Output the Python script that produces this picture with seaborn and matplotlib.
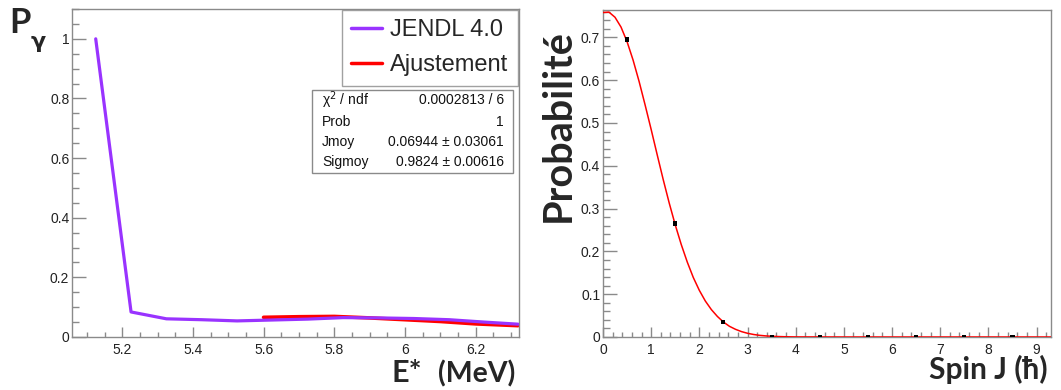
import numpy as np
import pandas as pd
import matplotlib
matplotlib.use("Agg")
import matplotlib.pyplot as plt
from matplotlib.ticker import MultipleLocator, FuncFormatter
from matplotlib.patches import Rectangle
import seaborn as sns

# ---------------- data ----------------
e_jendl = [5.125, 5.225, 5.325, 5.425, 5.525, 5.625, 5.725, 5.825, 5.925, 6.025, 6.125, 6.225, 6.32]
p_jendl = [1.0, 0.084, 0.061, 0.058, 0.054, 0.057, 0.060, 0.065, 0.064, 0.062, 0.058, 0.050, 0.043]

e_fit = [5.6, 5.7, 5.8, 5.9, 6.0, 6.1, 6.2, 6.32]
p_fit = [0.066, 0.068, 0.069, 0.064, 0.058, 0.052, 0.044, 0.038]

spin_pts = [0.5, 1.5, 2.5, 3.5, 4.5, 5.5, 6.5, 7.5, 8.5]
prob_pts = [0.695, 0.265, 0.035, 0.0, 0.0, 0.0, 0.0, 0.0, 0.0]

spin_curve = [0.0, 0.125, 0.25, 0.375, 0.5, 0.625, 0.75, 0.875, 1.0, 1.125, 1.25, 1.375,
              1.5, 1.625, 1.75, 1.875, 2.0, 2.125, 2.25, 2.375, 2.5, 2.625, 2.75, 2.875,
              3.0, 3.125, 3.25, 3.375, 3.5, 3.625, 3.75, 3.875, 4.0, 5.0, 6.0, 7.0, 8.0, 9.3]
prob_curve = [0.758, 0.759, 0.747, 0.724, 0.690, 0.647, 0.597, 0.542, 0.485, 0.426, 0.368, 0.313,
              0.262, 0.216, 0.175, 0.139, 0.109, 0.084, 0.064, 0.048, 0.035, 0.025, 0.018, 0.0126,
              0.0087, 0.0059, 0.0039, 0.0026, 0.0017, 0.0011, 0.0007, 0.0004, 0.0002,
              0.0, 0.0, 0.0, 0.0, 0.0]

legend_labels = ["JENDL 4.0", "Ajustement"]
stats_names = ["\u03c7$^{2}$ / ndf", "Prob", "Jmoy", "Sigmoy"]
stats_values = ["0.0002813 / 6", "1", "0.06944 \u00b1 0.03061", "0.9824 \u00b1 0.00616"]

# ---------------- style ----------------
sns.set_style("ticks")
plt.rcParams["font.family"] = ["Liberation Sans", "DejaVu Sans"]
GRAY = "#8a8a8a"
PURPLE = "#9933ff"
RED = "#ff0000"

fig = plt.figure(figsize=(10.61, 3.90), dpi=100)
axL = fig.add_axes([0.0679, 0.1359, 0.4213, 0.8410])
axR = fig.add_axes([0.5683, 0.1359, 0.4223, 0.8385])

df_j = pd.DataFrame({"E": e_jendl, "P": p_jendl})
df_f = pd.DataFrame({"E": e_fit, "P": p_fit})
sns.lineplot(data=df_j, x="E", y="P", ax=axL, color=PURPLE, lw=2.3, label=legend_labels[0],
             estimator=None, sort=False, zorder=3)
sns.lineplot(data=df_f, x="E", y="P", ax=axL, color=RED, lw=2.6, label=legend_labels[1],
             estimator=None, sort=False, zorder=2)

axL.set_xlim(5.058, 6.323)
axL.set_ylim(0, 1.10)

df_c = pd.DataFrame({"J": spin_curve, "P": prob_curve})
df_p = pd.DataFrame({"J": spin_pts, "P": prob_pts})
sns.lineplot(data=df_c, x="J", y="P", ax=axR, color=RED, lw=1.1, estimator=None, sort=False,
             zorder=3)
sns.scatterplot(data=df_p, x="J", y="P", ax=axR, color="black", marker="s", s=9,
                edgecolor="none", zorder=4)
axR.set_xlim(0, 9.3)
axR.set_ylim(0, 0.764)

fmt = FuncFormatter(lambda v, p: "%g" % round(v, 4))
for ax in (axL, axR):
    ax.set_xlabel("")
    ax.set_ylabel("")
    for s in ax.spines.values():
        s.set_visible(True)
        s.set_color(GRAY)
        s.set_linewidth(1.0)
    ax.xaxis.set_major_formatter(fmt)
    ax.yaxis.set_major_formatter(fmt)
    ax.tick_params(which="both", direction="in", color=GRAY, width=1.0,
                   labelsize=10, labelcolor="#222222", top=False, right=False)

axL.xaxis.set_major_locator(MultipleLocator(0.2))
axL.xaxis.set_minor_locator(MultipleLocator(0.05))
axL.yaxis.set_major_locator(MultipleLocator(0.2))
axL.yaxis.set_minor_locator(MultipleLocator(0.05))
axL.tick_params(axis="y", which="major", length=10, pad=2)
axL.tick_params(axis="y", which="minor", length=5)
axL.tick_params(axis="x", which="major", length=7, pad=4)
axL.tick_params(axis="x", which="minor", length=3.6)

axR.xaxis.set_major_locator(MultipleLocator(1))
axR.xaxis.set_minor_locator(MultipleLocator(0.2))
axR.yaxis.set_major_locator(MultipleLocator(0.1))
axR.yaxis.set_minor_locator(MultipleLocator(0.02))
axR.tick_params(axis="y", which="major", length=10, pad=2)
axR.tick_params(axis="y", which="minor", length=5)
axR.tick_params(axis="x", which="major", length=7, pad=4)
axR.tick_params(axis="x", which="minor", length=3.3)

# legend
leg = axL.legend(loc="upper right", bbox_to_anchor=(0.998, 0.997), borderaxespad=0,
                 fontsize=17, frameon=True, fancybox=False, handlelength=1.3,
                 handletextpad=0.35, borderpad=0.4, labelspacing=0.55)
leg.get_frame().set_edgecolor(GRAY)
leg.get_frame().set_linewidth(1.0)
for h in leg.get_lines():
    h.set_linewidth(2.5)

# stats box
axL.add_patch(Rectangle((0.537, 0.50), 0.45, 0.253, transform=axL.transAxes,
                        facecolor="white", edgecolor=GRAY, lw=1.0, zorder=5))
rows_y = [0.7226, 0.6555, 0.5945, 0.5335]
for yy, n, v in zip(rows_y, stats_names, stats_values):
    axL.text(0.559, yy, n, transform=axL.transAxes, ha="left", va="center",
             fontsize=10, color="#111111", zorder=6)
    axL.text(0.966, yy, v, transform=axL.transAxes, ha="right", va="center",
             fontsize=10, color="#111111", zorder=6)

# axis titles (bold, large)
BF = ["Lato", "DejaVu Sans"]
fig.text(0.009, 0.915, "P", fontsize=25, fontweight="bold", family=BF, va="baseline", ha="left")
fig.text(0.029, 0.878, "\u03b3", fontsize=16, fontweight="bold", family=["DejaVu Sans"],
         va="baseline", ha="left")
fig.text(0.369, 0.020, "E*", fontsize=22, fontweight="bold", family=BF, va="baseline", ha="left")
fig.text(0.4125, 0.020, "(MeV)", fontsize=20.5, fontweight="bold", family=BF, va="baseline", ha="left")
fig.text(0.987, 0.028, "Spin J (\u0127)", fontsize=21.5, fontweight="bold", family=BF,
         va="baseline", ha="right")
fig.text(0.526, 0.679, "Probabilit\u00e9", fontsize=28.5, fontweight="bold", family=BF,
         rotation=90, va="center", ha="center")

fig.savefig("out.png", dpi=100)
